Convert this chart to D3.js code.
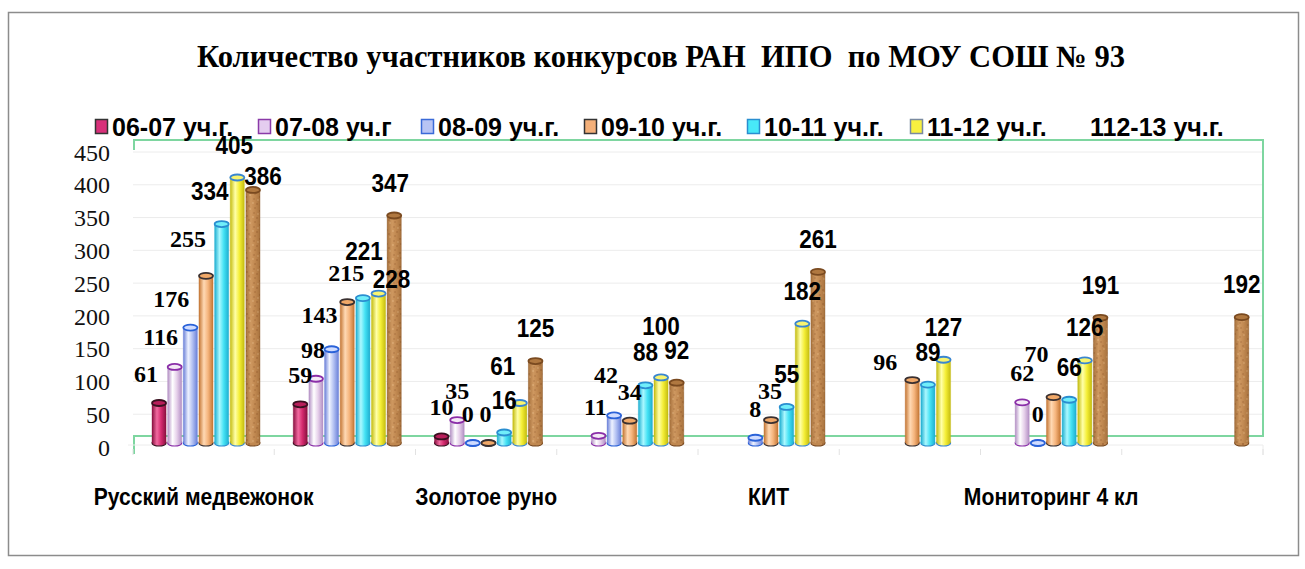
<!DOCTYPE html>
<html>
<head>
<meta charset="utf-8">
<script src="https://cdn.jsdelivr.net/npm/d3@7/dist/d3.min.js"></script>
<style>
  html, body { margin: 0; padding: 0; background: #ffffff; }
  svg { display: block; }
</style>
</head>
<body>
<svg id="chart" width="1305" height="569"></svg>
<script>
// ---------------- DATA ----------------
const title = "Количество участников конкурсов РАН  ИПО  по МОУ СОШ № 93";
const categories = ["Русский медвежонок", "", "Золотое руно", "", "КИТ", "", "Мониторинг 4 кл", ""];
const seriesNames = ["06-07 уч.г.", "07-08 уч.г", "08-09 уч.г.", "09-10 уч.г.", "10-11 уч.г.", "11-12 уч.г.", "112-13 уч.г."];
const s0607 = [61, 59, 10, null, null, null, null, null];
const s0708 = [116, 98, 35, 11, null, null, 62, null];
const s0809 = [176, 143, 0, 42, 8, null, 0, null];
const s0910 = [255, 215, 0, 34, 35, 96, 70, null];
const s1011 = [334, 221, 16, 88, 55, 89, 66, null];
const s1112 = [405, 228, 61, 100, 182, 127, 126, null];
const s1213 = [386, 347, 125, 92, 261, null, 191, 192];
const yTicks = [0, 50, 100, 150, 200, 250, 300, 350, 400, 450];

const seriesValues = [s0607, s0708, s0809, s0910, s1011, s1112, s1213];

// ---------------- STYLE ----------------
const palette = [
  {base: "#d42a6e", light: "#f26aa0", dark: "#8a1040", rim: "#3a1020", cap: "#b81e5a", legend: "#d8307a", legendStroke: "#333"},
  {base: "#e6d0ea", light: "#ffffff", dark: "#b38fc4", rim: "#8a2ea8", cap: "#f4e8f6", legend: "#e4cdef", legendStroke: "#8a3aa8"},
  {base: "#b2c0f2", light: "#eef2ff", dark: "#6a80d8", rim: "#2a62d8", cap: "#d0dcff", legend: "#b8c4f4", legendStroke: "#3a6ad8"},
  {base: "#f5b47c", light: "#ffd9b4", dark: "#c47634", rim: "#3a3030", cap: "#f0a868", legend: "#f4b07a", legendStroke: "#333"},
  {base: "#44e2f4", light: "#aaf8ff", dark: "#1eaed0", rim: "#2a8ed0", cap: "#70eefa", legend: "#48e8f8", legendStroke: "#2a8ed0"},
  {base: "#f4ee36", light: "#ffffa8", dark: "#c4bc10", rim: "#3a86d0", cap: "#f8f470", legend: "#f8f040", legendStroke: "#7a8aa0"},
  {base: "#c08850", light: "#e0ac74", dark: "#8a5828", rim: "#7a4a20", cap: "#b07840", legend: "none", legendStroke: "none"}
];
const serifSeries = [true, true, true, true, false, false, false];
// label nudges for collisions (key: group-series), relative offsets [dx, dy]
const labelNudge = {
  "0-0": [-13, 0], "0-1": [-14, -1], "0-2": [-19, 0], "0-3": [-18, -8], "0-4": [-12, 0], "0-5": [-3, 0], "0-6": [10, 19],
  "1-1": [-3, 0], "1-2": [-12, -5], "1-3": [-1, 0], "1-4": [1, -14], "1-5": [13, 18], "1-6": [-4, 0],
  "2-2": [-5, 0], "2-3": [-3, 0], "2-5": [-17, -4],
  "3-1": [-3, 0], "3-2": [-8, -11], "3-5": [0, -18],
  "4-3": [-1, 0],
  "5-3": [-27, 11],
  "6-3": [-17, -14]
};

const svg = d3.select("#chart");

// outer frame
svg.append("rect").attr("x", 8.5).attr("y", 12.5).attr("width", 1290).attr("height", 543)
  .attr("fill", "#fff").attr("stroke", "#8c8c8c").attr("stroke-width", 1.5);

// scales
const plotLeft = 133, plotRight = 1263;
const y = d3.scaleLinear().domain([0, 450]).range([447, 152]);
const x0 = d3.scaleBand().domain(d3.range(categories.length)).range([plotLeft, plotRight]).padding(0);
const x1 = d3.scaleBand().domain(d3.range(seriesNames.length)).range([19, 127]).paddingInner(0.1);

// gradients
const defs = svg.append("defs");
palette.forEach((p, i) => {
  const g = defs.append("linearGradient").attr("id", "cyl" + i).attr("x1", "0").attr("x2", "1").attr("y1", "0").attr("y2", "0");
  g.append("stop").attr("offset", "0%").attr("stop-color", p.dark);
  g.append("stop").attr("offset", "35%").attr("stop-color", p.light);
  g.append("stop").attr("offset", "65%").attr("stop-color", p.base);
  g.append("stop").attr("offset", "100%").attr("stop-color", p.dark);
});
// cork-like texture for last series
const pat = defs.append("pattern").attr("id", "cork").attr("patternUnits", "userSpaceOnUse").attr("width", 14).attr("height", 14);
pat.append("rect").attr("width", 14).attr("height", 14).attr("fill", "#c08850");
[[2,3],[8,1],[5,8],[11,10],[3,12],[9,6]].forEach(([a,b]) => pat.append("circle").attr("cx", a).attr("cy", b).attr("r", 1.1).attr("fill", "#8a5226").attr("opacity", 0.55));
[[6,4],[1,7],[12,13]].forEach(([a,b]) => pat.append("circle").attr("cx", a).attr("cy", b).attr("r", 0.9).attr("fill", "#f0c898").attr("opacity", 0.6));

// gridlines
svg.append("g").selectAll("line").data(yTicks.filter(t => t > 0)).join("line")
  .attr("x1", plotLeft).attr("x2", plotRight)
  .attr("y1", d => y(d)).attr("y2", d => y(d))
  .attr("stroke", "#ececec").attr("stroke-width", 1);

// 3D walls (green edges)
const wallTop = 140, floorBack = 436;
svg.append("path")
  .attr("d", `M${plotLeft + 1},${wallTop + 10} L${plotLeft + 1},${wallTop} L${plotRight},${wallTop} L${plotRight},${floorBack} L${plotLeft + 1},${floorBack} L${plotLeft + 1},${floorBack + 18}`)
  .attr("fill", "none").attr("stroke", "#7ed6a0").attr("stroke-width", 2);
svg.append("path")
  .attr("d", `M${plotLeft - 5},${floorBack + 9} L${plotRight},${floorBack + 9} L${plotRight},${floorBack + 19}`)
  .attr("fill", "none").attr("stroke", "#ececec").attr("stroke-width", 1);
svg.append("g").selectAll("line").data(d3.range(categories.length + 1)).join("line")
  .attr("x1", d => plotLeft + d * x0.step()).attr("x2", d => plotLeft + d * x0.step())
  .attr("y1", floorBack + 13).attr("y2", floorBack + 19)
  .attr("stroke", "#e2e2e2");

// y axis labels
const yAxis = d3.axisLeft(y).tickValues(yTicks).tickSize(0).tickPadding(0);
const yg = svg.append("g").attr("transform", "translate(110,0)").call(yAxis);
yg.select(".domain").remove();
yg.selectAll("text").attr("font-family", "'Liberation Serif', 'Times New Roman', serif")
  .attr("font-size", 24).attr("fill", "#111").attr("dy", "0.34em");

// bars (cylinders)
const capRy = 3;
const bw = x1.bandwidth();
const barsG = svg.append("g");
const barData = [];
categories.forEach((c, gi) => {
  seriesValues.forEach((vals, si) => {
    const v = vals[gi];
    if (v === null || v === undefined) return;
    barData.push({gi, si, v});
  });
});
const bx = d => x0(d.gi) + x1(d.si);
const topY = d => y(d.v) - 4;
const botY = y(0) - 4;

const bar = barsG.selectAll("g.bar").data(barData).join("g").attr("class", "bar");
bar.append("ellipse")
  .attr("cx", d => bx(d) + bw / 2).attr("cy", botY).attr("rx", bw / 2).attr("ry", capRy)
  .attr("fill", d => d.si === 6 ? "url(#cork)" : `url(#cyl${d.si})`)
  .attr("stroke", d => palette[d.si].rim).attr("stroke-width", 1.2);
bar.append("rect")
  .attr("x", d => bx(d)).attr("width", bw)
  .attr("y", d => topY(d)).attr("height", d => Math.max(0, botY - topY(d)))
  .attr("fill", d => d.si === 6 ? "url(#cork)" : `url(#cyl${d.si})`);
bar.filter(d => d.si === 6).append("rect")
  .attr("x", d => bx(d)).attr("width", bw)
  .attr("y", d => topY(d)).attr("height", d => Math.max(0, botY - topY(d)))
  .attr("fill", "url(#cyl6)").attr("opacity", 0.45);
bar.append("path")
  .attr("d", d => `M${bx(d)},${topY(d)} L${bx(d)},${botY} M${bx(d) + bw},${topY(d)} L${bx(d) + bw},${botY}`)
  .attr("stroke", d => palette[d.si].dark).attr("stroke-width", 0.6).attr("opacity", 0.6);
bar.append("ellipse")
  .attr("cx", d => bx(d) + bw / 2).attr("cy", d => topY(d)).attr("rx", bw / 2).attr("ry", capRy)
  .attr("fill", d => palette[d.si].cap)
  .attr("stroke", d => palette[d.si].rim).attr("stroke-width", 1.8);

// data labels
const labG = svg.append("g");
barData.forEach(d => {
  const serif = serifSeries[d.si];
  const nd = labelNudge[d.gi + "-" + d.si] || [0, 0];
  const lx = bx(d) + bw / 2 + nd[0];
  const ly = y(d.v) - (serif ? 25 : 28) + nd[1];
  const g = labG.append("g").attr("transform", `translate(${lx},${ly}) scale(${serif ? 1 : 0.9},1)`);
  g.append("text")
    .attr("text-anchor", "middle")
    .attr("font-family", serif ? "'Liberation Serif', 'Times New Roman', serif" : "'Liberation Sans', Arial, sans-serif")
    .attr("font-weight", "bold")
    .attr("font-size", serif ? 24 : 25)
    .attr("fill", "#000")
    .text(d.v);
});

// x axis category labels
const xAxis = d3.axisBottom(x0).tickFormat(i => categories[i]).tickSize(0).tickPadding(0);
const xg = svg.append("g").call(xAxis);
xg.select(".domain").remove();
xg.selectAll(".tick").each(function(i) {
  const t = d3.select(this);
  const cx = x0(i) + x0.bandwidth() / 2;
  t.attr("transform", `translate(${cx},505) scale(0.92,1)`);
  t.select("text").attr("y", 0).attr("dy", 0)
    .attr("text-anchor", "middle")
    .style("white-space", "pre")
    .attr("font-family", "'Liberation Sans', Arial, sans-serif")
    .attr("font-weight", "bold").attr("font-size", 23).attr("fill", "#000");
});

// legend
const legG = svg.append("g");
seriesNames.forEach((name, i) => {
  const lx = 95 + i * 163;
  if (palette[i].legend !== "none") {
    legG.append("rect").attr("x", lx + 0.5).attr("y", 119.5).attr("width", 12).attr("height", 14)
      .attr("fill", palette[i].legend).attr("stroke", palette[i].legendStroke).attr("stroke-width", 1.5);
  }
  legG.append("text").attr("x", lx + 17).attr("y", 136)
    .attr("font-family", "'Liberation Sans', Arial, sans-serif")
    .attr("font-weight", "bold").attr("font-size", 25).attr("fill", "#000")
    .text(name);
});

// title
svg.append("text").attr("x", 661).attr("y", 67).attr("text-anchor", "middle")
  .style("white-space", "pre")
  .attr("font-family", "'Liberation Serif', 'Times New Roman', serif")
  .attr("font-weight", "bold").attr("font-size", 31).attr("fill", "#000")
  .attr("textLength", 928).attr("lengthAdjust", "spacingAndGlyphs")
  .text(title);
</script>
</body>
</html>
